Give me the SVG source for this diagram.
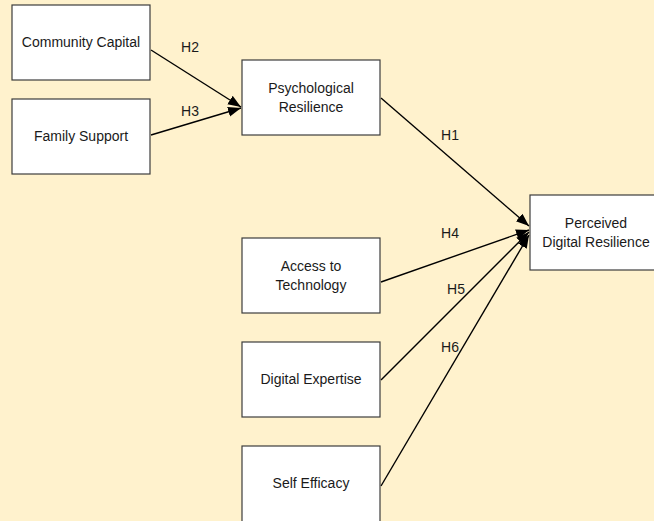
<svg xmlns="http://www.w3.org/2000/svg" width="654" height="521" viewBox="0 0 654 521">
  <style>
    .box { fill: #ffffff; stroke: #3c3c3c; stroke-width: 1.2; }
    .lbl { font-family: "Liberation Sans", Arial, sans-serif; font-size: 14px; fill: #1a1a1a; text-anchor: middle; }
    .hyp { font-family: "Liberation Sans", Arial, sans-serif; font-size: 14px; fill: #1a1a1a; text-anchor: middle; }
    .edge { stroke: #000000; stroke-width: 1.4; fill: none; marker-end: url(#arrow); }
  </style>
  <defs>
    <marker id="arrow" markerUnits="userSpaceOnUse" markerWidth="14" markerHeight="12" refX="13" refY="5" orient="auto">
      <path d="M0,0 L13,5 L0,10 Z" fill="#000000"/>
    </marker>
  </defs>

  <rect x="0" y="0" width="654" height="521" fill="#fff2cd"/>

  <g id="connectors">
    <line class="edge" x1="151" y1="50" x2="241" y2="107"/>
    <line class="edge" x1="151" y1="135" x2="241" y2="108"/>
    <line class="edge" x1="381" y1="98" x2="529" y2="226"/>
    <line class="edge" x1="381" y1="282" x2="529" y2="230"/>
    <line class="edge" x1="381" y1="380" x2="529" y2="232"/>
    <line class="edge" x1="381" y1="486" x2="529" y2="235"/>
    <text class="hyp" x="190" y="52">H2</text>
    <text class="hyp" x="190" y="116">H3</text>
    <text class="hyp" x="450" y="140">H1</text>
    <text class="hyp" x="450" y="238">H4</text>
    <text class="hyp" x="456" y="294">H5</text>
    <text class="hyp" x="450" y="352">H6</text>
  </g>

  <g id="community-capital">
    <rect class="box" x="12" y="5" width="138" height="75"/>
    <text class="lbl" x="81" y="47">Community Capital</text>
  </g>
  <g id="family-support">
    <rect class="box" x="12" y="99" width="138" height="75"/>
    <text class="lbl" x="81" y="141">Family Support</text>
  </g>
  <g id="psychological-resilience">
    <rect class="box" x="242" y="60" width="138" height="75"/>
    <text class="lbl" x="311" y="93">Psychological</text>
    <text class="lbl" x="311" y="112">Resilience</text>
  </g>
  <g id="perceived-digital-resilience">
    <rect class="box" x="530" y="195" width="135" height="75"/>
    <text class="lbl" x="596" y="228">Perceived</text>
    <text class="lbl" x="596" y="247">Digital Resilience</text>
  </g>
  <g id="access-to-technology">
    <rect class="box" x="242" y="238" width="138" height="75"/>
    <text class="lbl" x="311" y="271">Access to</text>
    <text class="lbl" x="311" y="290">Technology</text>
  </g>
  <g id="digital-expertise">
    <rect class="box" x="242" y="342" width="138" height="75"/>
    <text class="lbl" x="311" y="384">Digital Expertise</text>
  </g>
  <g id="self-efficacy">
    <rect class="box" x="242" y="446" width="138" height="80"/>
    <text class="lbl" x="311" y="488">Self Efficacy</text>
  </g>
</svg>
